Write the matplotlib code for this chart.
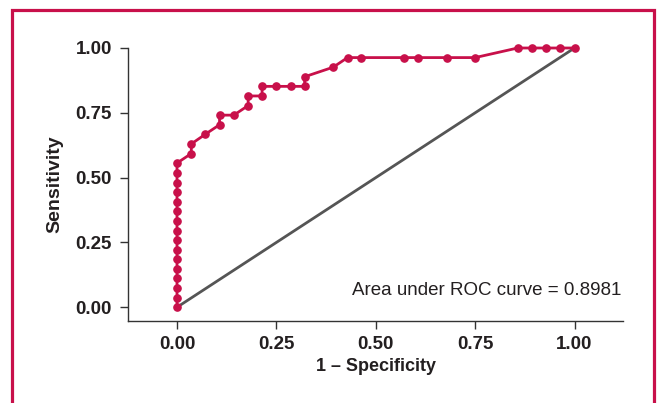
import matplotlib.pyplot as plt
from matplotlib.patches import Rectangle

# ROC curve points (1 - specificity, sensitivity)
fpr = [0, 0, 0, 0, 0, 0, 0, 0, 0, 0, 0, 0, 0, 0, 0, 0,
       0.036, 0.036, 0.071, 0.107, 0.107, 0.143, 0.179, 0.179, 0.214, 0.214,
       0.25, 0.286, 0.321, 0.321, 0.393, 0.429, 0.464, 0.571, 0.607, 0.679,
       0.75, 0.857, 0.893, 0.929, 0.964, 1.0]
tpr = [0, 0.037, 0.074, 0.111, 0.148, 0.185, 0.222, 0.259, 0.296, 0.333,
       0.370, 0.407, 0.444, 0.481, 0.519, 0.556,
       0.593, 0.630, 0.667, 0.704, 0.741, 0.741, 0.778, 0.815, 0.815, 0.852,
       0.852, 0.852, 0.852, 0.889, 0.926, 0.963, 0.963, 0.963, 0.963, 0.963,
       0.963, 1.0, 1.0, 1.0, 1.0, 1.0]
ref_line = [0, 1]
ticks = [0.00, 0.25, 0.50, 0.75, 1.00]
tick_labels = ["0.00", "0.25", "0.50", "0.75", "1.00"]
auc_text = "Area under ROC curve = 0.8981"

red = "#C8104A"
dark = "#231F20"

plt.rcParams['font.family'] = ['Liberation Sans', 'DejaVu Sans']

fig = plt.figure(figsize=(6.57, 4.03), dpi=100)
ax = fig.add_axes([0.1948, 0.2035, 0.7535, 0.6774])

ax.plot(ref_line, ref_line, color="#555555", lw=2.0, zorder=2)
ax.plot(fpr, tpr, color=red, lw=2.0, marker="o", ms=5.2, clip_on=False, zorder=3)

ax.set_xlim(-0.1233, 1.122)
ax.set_ylim(-0.053, 1.0)
ax.set_xticks(ticks)
ax.set_xticklabels(tick_labels)
ax.set_yticks(ticks)
ax.set_yticklabels(tick_labels)

for s in ["top", "right"]:
    ax.spines[s].set_visible(False)
for s in ["left", "bottom"]:
    ax.spines[s].set_color("#333333")
    ax.spines[s].set_linewidth(1.0)

ax.tick_params(axis="both", length=5.5, width=1.0, color="#333333",
               labelsize=13.5, labelcolor=dark)
ax.tick_params(axis="y", pad=6)
ax.tick_params(axis="x", pad=5)
for lab in ax.get_xticklabels() + ax.get_yticklabels():
    lab.set_fontweight("bold")

ax.set_xlabel("1 – Specificity", fontsize=13, fontweight="bold", color=dark, labelpad=4)
ax.set_ylabel("Sensitivity", fontsize=14, fontweight="bold", color=dark, labelpad=9)

ax.text(1.117, 0.047, auc_text, ha="right", va="baseline", fontsize=13.5, color=dark)

# red frame around the figure (bottom edge cut off)
fig.patches.append(Rectangle((12 / 657, -0.1), (654 - 12) / 657, 1.1 - 10 / 403,
                             transform=fig.transFigure, fill=False,
                             edgecolor=red, linewidth=2.3))

fig.savefig("out.png", dpi=100)
